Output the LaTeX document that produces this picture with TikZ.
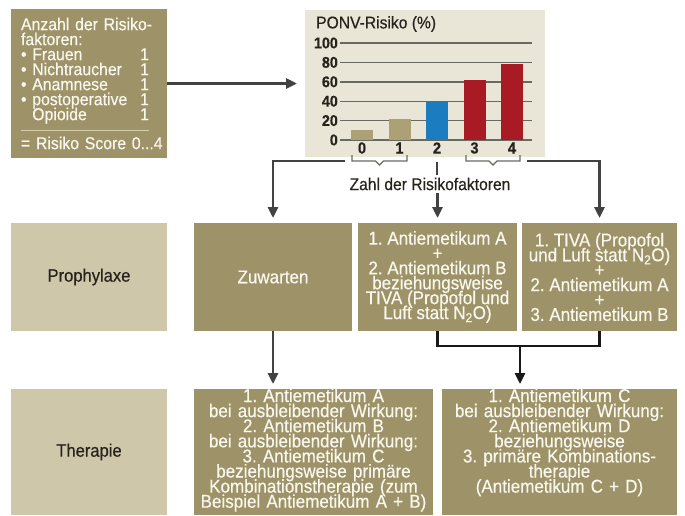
\documentclass[tikz,border=0pt]{standalone}
\usepackage{fontspec}
\setmainfont{Liberation Sans}[FakeStretch=0.92,FakeBold=0.4]
\usetikzlibrary{arrows.meta,positioning}
\definecolor{boxolive}{RGB}{158,147,104}
\definecolor{boxsand}{RGB}{207,199,170}
\definecolor{chartpaper}{RGB}{234,230,215}
\definecolor{textcream}{RGB}{250,247,238}
\definecolor{textink}{RGB}{38,34,28}
\definecolor{wiregray}{RGB}{66,66,66}
\definecolor{barkhaki}{RGB}{172,161,116}
\definecolor{barblue}{RGB}{28,124,192}
\definecolor{barred}{RGB}{168,26,36}
\definecolor{gridgray}{RGB}{105,105,100}
\definecolor{rulesand}{RGB}{214,205,172}
\setlength{\lineskiplimit}{-20pt}
\frenchspacing
\newcommand{\boxfont}{\fontsize{18.5}{14.9}\selectfont}
\newcommand{\onepoint}{\hfill 1\kern8pt}
\tikzset{
	factorbox/.style={
		fill=boxolive,
		text=textcream,
		text width=136pt,
		inner xsep=10pt,
		inner ysep=0pt,
		minimum height=149pt,
		align=left,
		outer sep=0pt,
		font=\fontsize{17.2}{15}\selectfont,
		execute at begin node=\setlength{\lineskiplimit}{-20pt}
	},
	chartbox/.style={
		fill=chartpaper,
		minimum width=240pt,
		minimum height=147pt,
		outer sep=0pt
	},
	phasebox/.style={
		fill=boxsand,
		text=textink,
		minimum width=156pt,
		outer sep=0pt,
		font=\fontsize{18}{18}\selectfont
	},
	stepbox/.style={
		fill=boxolive,
		text=textcream,
		minimum height=108pt,
		inner sep=0pt,
		outer sep=0pt,
		align=center,
		font=\boxfont
	},
	curebox/.style={
		fill=boxolive,
		text=textcream,
		align=center,
		inner xsep=0pt,
		inner ysep=0pt,
		text height=13pt,
		text depth=113pt,
		minimum height=126pt,
		outer sep=0pt,
		font=\fontsize{18.5}{15.1}\selectfont,
		execute at begin node=\setlength{\lineskiplimit}{-20pt}
	},
	ticklabel/.style={
		anchor=east,
		inner sep=0pt,
		text=textink,
		font=\bfseries\fontsize{15.5}{15.5}\selectfont
	},
	axislabel/.style={
		inner sep=0pt,
		text=textink,
		font=\bfseries\fontsize{16}{16}\selectfont
	},
	flow/.style={
		draw=wiregray,
		line width=2.7pt,
		->,
		shorten >=5pt
	},
	link/.style={
		draw=black!90,
		line width=2.8pt
	},
	bracket/.style={
		draw=gridgray,
		line width=1.3pt
	}
}
\begin{document}
\begin{tikzpicture}[node distance=27pt,>={Triangle[length=11pt,width=10pt]},x=1pt,y=-1pt]
	\useasboundingbox (0,0) rectangle (685,515);
	\node [factorbox] (risk) at (89,83.5) {Anzahl der Risiko-\\
		faktoren:\\
		• Frauen\onepoint\\
		• Nichtraucher\onepoint\\
		• Anamnese\onepoint\\
		• postoperative\onepoint\\
		\phantom{• }Opioide\onepoint\\
		\textcolor{rulesand}{\rule[4pt]{128pt}{0.8pt}}\\[-1pt]
		\mbox{= Risiko Score 0...4}};
	\node [chartbox] (chart) at (425,83.5) {};
	\node [anchor=west,inner sep=0pt,text=textink,font=\fontsize{17}{17}\selectfont] (title) at (316,24) {PONV-Risiko (\%)};
	\foreach \v in {0,20,...,100} {
		\draw [gridgray,line width=1.4pt] (340,{140-0.97*\v}) -- (532,{140-0.97*\v});
		\node [ticklabel] at (338,{140-0.97*\v}) {\v};
	}
	\foreach \n/\h/\c in {0/10/barkhaki,1/22/barkhaki,2/39/barblue,3/62/barred,4/78/barred} {
		\fill [\c] ({351+37.5*\n},140) rectangle ({373+37.5*\n},{140-0.97*\h});
		\node [axislabel] (n\n) at ({362+37.5*\n},148) {\n};
	}
	\foreach \a/\b in {352/407,466/520}
		\draw [bracket] (\a,155) -- (\a,161) -- ({(\a+\b)/2-4},161) -- ({(\a+\b)/2},165) -- ({(\a+\b)/2+4},161) -- (\b,161) -- (\b,155);
	\node [inner sep=3pt,text=textink,font=\fontsize{17}{17}\selectfont] (zahl) at (430,184) {Zahl der Risikofaktoren};

	\node [phasebox,minimum height=108pt] (proph) at (89,277) {Prophylaxe};
	\node [stepbox,minimum width=158pt] (zuwarten) [right=of proph] {Zuwarten};
	\node [stepbox,minimum width=159pt] (antiA) [right=6pt of zuwarten] {1. Antiemetikum A\\ +\\ 2. Antiemetikum B\\ beziehungsweise\\ TIVA (Propofol und\\ Luft statt N\textsubscript{2}O)};
	\node [stepbox,minimum width=155pt] (tiva) [right=5pt of antiA] {1. TIVA (Propofol\\ und Luft statt N\textsubscript{2}O)\\ +\\ 2. Antiemetikum A\\ +\\ 3. Antiemetikum B};

	\node [phasebox,minimum height=126pt] (ther) [below=58pt of proph] {Therapie};
	\node [curebox,text width=239pt] (cureA) [right=of ther] {1. Antiemetikum A\\ bei ausbleibender Wirkung:\\ 2. Antiemetikum B\\ bei ausbleibender Wirkung:\\ 3. Antiemetikum C\\ beziehungsweise primäre\\ Kombinationstherapie (zum\\ Beispiel Antiemetikum A + B)};
	\node [curebox,text width=235pt] (cureC) [right=9pt of cureA] {1. Antiemetikum C\\ bei ausbleibender Wirkung:\\ 2. Antiemetikum D\\ beziehungsweise\\ 3. primäre Kombinations-\\ therapie\\ (Antiemetikum C + D)};

	\coordinate (lowend) at (345,161);
	\coordinate (highend) at (527,161);
	\coordinate (twomark) at (437,162);
	\coordinate (joint) at (520,346);

	\draw [flow,shorten >=8pt] (risk) -- (chart);
	\draw [flow] (lowend) -| (zuwarten);
	\draw [flow] (highend) -| (tiva);
	\draw [draw=wiregray,line width=2.7pt] (twomark) -- (twomark |- zahl.north);
	\draw [flow] (zahl.south -| antiA) -- (antiA);
	\draw [flow] (zuwarten) -- (zuwarten |- cureA.north);
	\draw [link] (antiA.south) |- (joint) -| (tiva.south);
	\draw [flow,draw=black!90] (joint) -- (joint |- cureC.north);
\end{tikzpicture}
\end{document}
